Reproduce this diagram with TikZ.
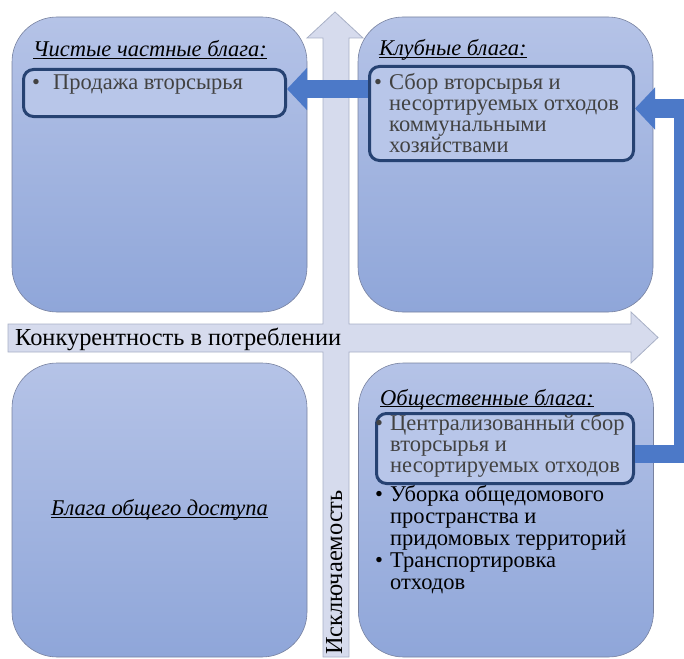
\documentclass[tikz,border=0pt]{standalone}
\usepackage{fontspec}
\setmainfont{Liberation Serif}
\usetikzlibrary{arrows.meta}
\definecolor{quadtop}{RGB}{181,195,231}
\definecolor{quadbot}{RGB}{143,166,217}
\definecolor{quadline}{RGB}{120,130,160}
\definecolor{hilite}{RGB}{184,198,233}
\definecolor{navy}{RGB}{38,66,114}
\definecolor{flowblue}{RGB}{76,121,200}
\definecolor{axisfill}{RGB}{214,219,237}
\definecolor{axisline}{RGB}{168,176,198}
\definecolor{greytext}{RGB}{66,66,66}
\newcommand\boxfont{\fontsize{22.5}{21.3}\selectfont}
\newcommand\axisfont{\fontsize{24.4}{26}\selectfont}
\newcommand\blt[1]{\makebox[#1][l]{\textbullet}}
\newcommand\hang[1]{\hspace*{#1}}
\newcommand\uln[1]{\leavevmode\setbox0\hbox{#1}\rlap{\rule[-2pt]{\wd0}{0.9pt}}\box0}
\newcommand\lines[2][21.3]{\parbox[t]{300pt}{\fontsize{22.5}{#1}\selectfont\raggedright #2}}
\tikzset{
  quad/.style={draw=quadline, line width=0.6pt, rounded corners=45pt, top color=quadtop, bottom color=quadbot, minimum width=295pt, minimum height=295pt, inner sep=0pt},
  hibox/.style={draw=navy, line width=3pt, rounded corners=10pt, fill=hilite, inner sep=0pt},
  flow/.style={draw=flowblue, line width=18pt, -{Triangle[width=41pt,length=20pt]}},
  axis/.style={fill=axisfill, draw=axisline, line width=0.8pt},
  head/.style={font=\boxfont\itshape, anchor=base west, inner sep=0pt},
  items/.style={anchor=base west, inner sep=0pt}
}
\begin{document}
\begin{tikzpicture}[x=1pt, y=-1pt]
\useasboundingbox (0,0) rectangle (684,658);
\draw[axis] (8,324) -- (323,324) -- (323,38) -- (307,38) -- (335,12) -- (363,38) -- (349,38) -- (349,324) -- (631,324) -- (631,312) -- (658,337.5) -- (631,363) -- (631,352) -- (349,352) -- (349,657) -- (323,657) -- (323,352) -- (8,352) -- cycle;
\draw (15, 345) node[anchor=base west, inner sep=0pt, font=\axisfont] (rival) {Конкурентность в потреблении};
\draw (342, 655) node[anchor=base west, inner sep=0pt, rotate=90, font=\axisfont] (excl) {Исключаемость};
\draw (159.5, 164.5) node[quad] (priv) {};
\draw (505.5, 164.5) node[quad] (club) {};
\draw (159.5, 510) node[quad, minimum height=294pt, font=\boxfont\itshape] (common) {\uln{Блага общего доступа}};
\draw (506, 510) node[quad, minimum height=294pt] (public) {};
\draw (154.5, 93) node[hibox, minimum width=262pt, minimum height=47pt] (privbox) {};
\draw (501.5, 113.5) node[hibox, minimum width=264pt, minimum height=94pt] (clubbox) {};
\draw (505, 448.5) node[hibox, minimum width=257pt, minimum height=70pt] (pubbox) {};
\draw (33, 57) node[head] (privhead) {\uln{Чистые частные блага:}};
\draw (379, 56) node[head] (clubhead) {\uln{Клубные блага:}};
\draw (380, 405) node[head] (pubhead) {\uln{Общественные блага:}};
\draw (32, 89) node[items, text=greytext] (privlist) {\lines{\blt{21pt}Продажа вторсырья}};
\draw (374, 89) node[items, text=greytext] (clublist) {\lines{\blt{15pt}Сбор вторсырья и\\\hang{15pt}несортируемых отходов\\\hang{15pt}коммунальными\\\hang{15pt}хозяйствами}};
\draw (375, 430) node[items, text=greytext] (publist) {\lines{\blt{15pt}Централизованный сбор\\\hang{15pt}вторсырья и\\\hang{15pt}несортируемых отходов}};
\draw (375, 501) node[items] (publist2) {\lines[22.2]{\blt{15pt}Уборка общедомового\\\hang{15pt}пространства и\\\hang{15pt}придомовых территорий\\\blt{15pt}Транспортировка\\\hang{15pt}отходов}};
\draw[flow] ([yshift=4pt]clubbox.west |- privbox.east) -- ([yshift=4pt]privbox.east);
\draw[flow] ([yshift=-5pt]pubbox.east) -- ++(48,0) |- ([yshift=5pt]clubbox.east);
\end{tikzpicture}
\end{document}
